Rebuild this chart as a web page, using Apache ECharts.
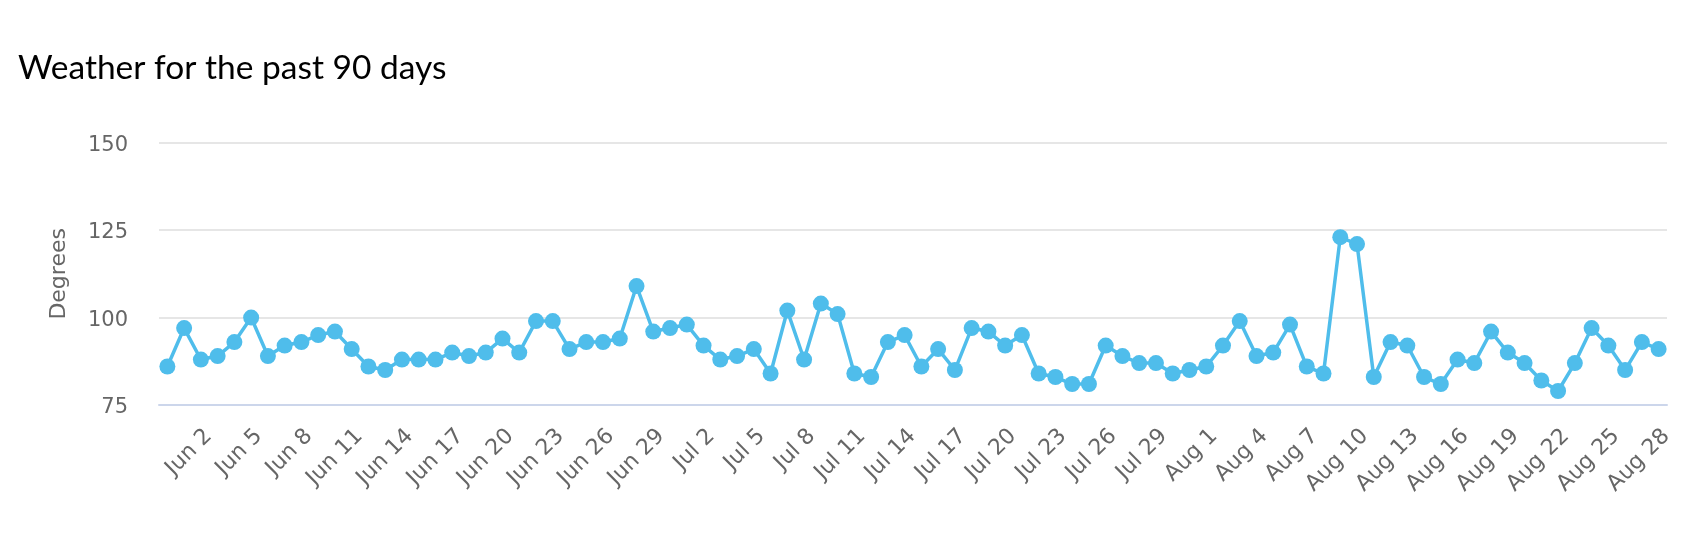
<!DOCTYPE html>
<html>
<head>
<meta charset="utf-8">
<script src="https://cdn.jsdelivr.net/npm/echarts@6/dist/echarts.min.js"></script>
<style>
  html, body { margin: 0; padding: 0; background: #ffffff; }
  #chart { width: 1700px; height: 536px; }
</style>
</head>
<body>
<div id="chart"></div>
<script>
const titleText = 'Weather for the past 90 days';
const yAxisName = 'Degrees';

const categories = [
  'May 31',
  'Jun 1','Jun 2','Jun 3','Jun 4','Jun 5','Jun 6','Jun 7','Jun 8','Jun 9','Jun 10',
  'Jun 11','Jun 12','Jun 13','Jun 14','Jun 15','Jun 16','Jun 17','Jun 18','Jun 19','Jun 20',
  'Jun 21','Jun 22','Jun 23','Jun 24','Jun 25','Jun 26','Jun 27','Jun 28','Jun 29','Jun 30',
  'Jul 1','Jul 2','Jul 3','Jul 4','Jul 5','Jul 6','Jul 7','Jul 8','Jul 9','Jul 10',
  'Jul 11','Jul 12','Jul 13','Jul 14','Jul 15','Jul 16','Jul 17','Jul 18','Jul 19','Jul 20',
  'Jul 21','Jul 22','Jul 23','Jul 24','Jul 25','Jul 26','Jul 27','Jul 28','Jul 29','Jul 30','Jul 31',
  'Aug 1','Aug 2','Aug 3','Aug 4','Aug 5','Aug 6','Aug 7','Aug 8','Aug 9','Aug 10',
  'Aug 11','Aug 12','Aug 13','Aug 14','Aug 15','Aug 16','Aug 17','Aug 18','Aug 19','Aug 20',
  'Aug 21','Aug 22','Aug 23','Aug 24','Aug 25','Aug 26','Aug 27','Aug 28'
];

const temperatures = [
  86, 97, 88, 89, 93, 100, 89, 92, 93, 95,
  96, 91, 86, 85, 88, 88, 88, 90, 89, 90,
  94, 90, 99, 99, 91, 93, 93, 94, 109, 96,
  97, 98, 92, 88, 89, 91, 84, 102, 88, 104,
  101, 84, 83, 93, 95, 86, 91, 85, 97, 96,
  92, 95, 84, 83, 81, 81, 92, 89, 87, 87,
  84, 85, 86, 92, 99, 89, 90, 98, 86, 84,
  123, 121, 83, 93, 92, 83, 81, 88, 87, 96,
  90, 87, 82, 79, 87, 97, 92, 85, 93, 91
];

const yMin = 75;
const yMax = 150;
const yStep = 25;

const chart = echarts.init(document.getElementById('chart'), null, { renderer: 'canvas' });

chart.setOption({
  animation: false,
  backgroundColor: '#ffffff',
  title: {
    text: titleText,
    left: 13,
    top: 46,
    textStyle: {
      fontFamily: 'Lato',
      fontSize: 33.5,
      fontWeight: 'normal',
      color: '#000000'
    }
  },
  grid: {
    left: 159,
    right: 33,
    top: 142.7,
    bottom: 131,
    containLabel: false
  },
  xAxis: {
    type: 'category',
    data: categories,
    boundaryGap: true,
    axisLine: { show: true, lineStyle: { color: '#ccd6eb', width: 2 } },
    axisTick: { show: false },
    splitLine: { show: false },
    axisLabel: {
      interval: function (index) { return index % 3 === 2; },
      rotate: 45,
      align: 'right',
      verticalAlign: 'top',
      margin: 20,
      fontFamily: 'DejaVu Sans',
      fontSize: 22,
      color: '#666666'
    }
  },
  yAxis: {
    type: 'value',
    min: yMin,
    max: yMax,
    interval: yStep,
    name: yAxisName,
    nameLocation: 'middle',
    nameRotate: 90,
    nameGap: 89,
    nameTextStyle: {
      fontFamily: 'DejaVu Sans',
      fontSize: 22,
      color: '#666666'
    },
    axisLine: { show: false },
    axisTick: { show: false },
    splitLine: { show: true, lineStyle: { color: '#e6e6e6', width: 2 } },
    axisLabel: {
      margin: 31,
      fontFamily: 'DejaVu Sans',
      fontSize: 21,
      color: '#666666',
      verticalAlign: 'top',
      lineHeight: 5
    }
  },
  series: [{
    type: 'line',
    data: temperatures,
    symbol: 'circle',
    symbolSize: 16,
    showSymbol: true,
    showAllSymbol: true,
    lineStyle: { color: '#4fbdeb', width: 3.5 },
    itemStyle: { color: '#4fbdeb' },
    z: 3
  }]
});
</script>
</body>
</html>
